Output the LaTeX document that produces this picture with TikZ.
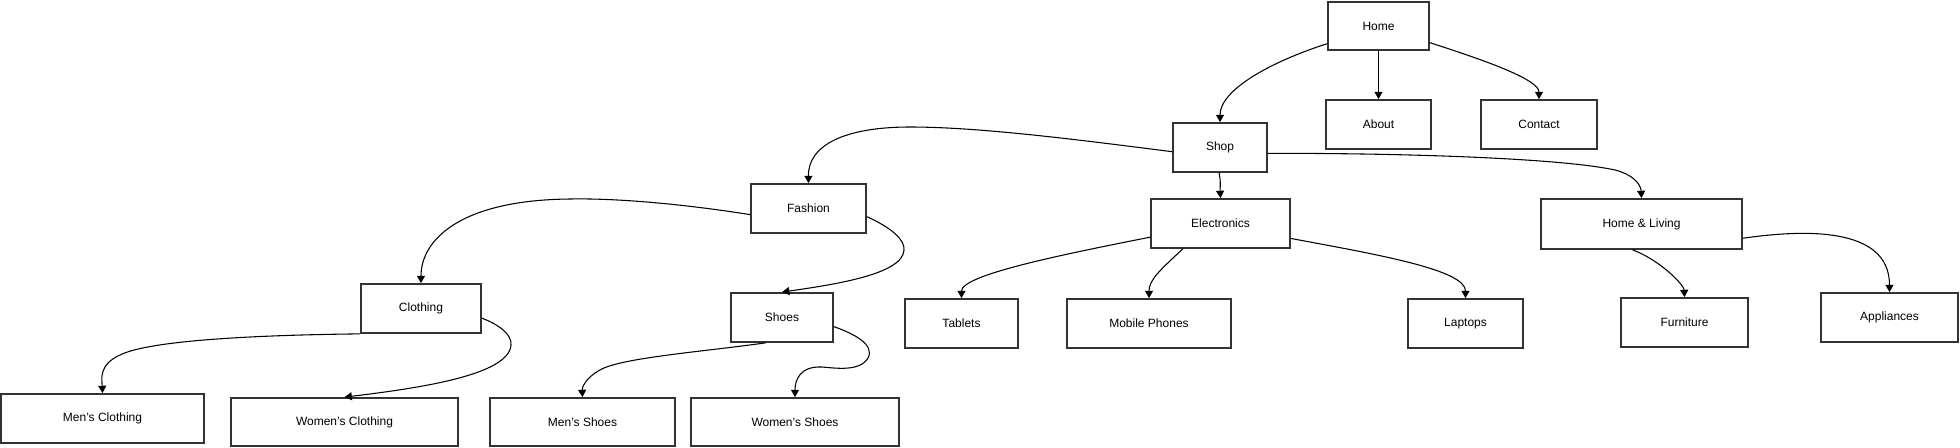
\documentclass[tikz,border=0pt]{standalone}
\usepackage{fontspec}
\setmainfont{Liberation Sans}
\usetikzlibrary{arrows.meta}
\begin{document}
\begin{tikzpicture}[x=0.75pt,y=-0.75pt,
  box/.style={draw=black!80,line width=1.3pt,fill=white,inner sep=0pt,font=\fontsize{9pt}{11pt}\selectfont},
  link/.style={draw=black,line width=0.8pt,-{Triangle[length=5.5pt,width=6pt]}}]
\useasboundingbox (0,0) rectangle (1960,447);
\newcommand\bx[6]{\node[box,minimum width=#4*0.75pt,minimum height=#5*0.75pt] (#1) at (#2,#3) {#6};}
\bx{home}{1378.5}{26}{101}{48}{Home}
\bx{about}{1378.5}{124.5}{105}{49}{About}
\bx{contact}{1539}{124.5}{116}{49}{Contact}
\bx{shop}{1220}{147.5}{94}{49}{Shop}
\bx{fashion}{808.5}{208.5}{115}{49}{Fashion}
\bx{elec}{1220.5}{223.5}{139}{49}{Electronics}
\bx{hl}{1641.5}{224}{201}{50}{Home \& Living}
\bx{clothing}{421}{308.5}{120}{49}{Clothing}
\bx{shoes}{782}{317.5}{102}{49}{Shoes}
\bx{tablets}{961.5}{323.5}{113}{49}{Tablets}
\bx{mobile}{1149}{323.5}{164}{49}{Mobile Phones}
\bx{laptops}{1465.5}{323.5}{115}{49}{Laptops}
\bx{furn}{1684.5}{322.5}{127}{49}{Furniture}
\bx{appl}{1889.5}{317.5}{137}{49}{Appliances}
\bx{mc}{102.5}{418.5}{203}{49}{Men's Clothing}
\bx{wc}{344.5}{422}{227}{48}{Women's Clothing}
\bx{ms}{582.5}{422}{185}{48}{Men's Shoes}
\bx{ws}{795}{422}{208}{48}{Women's Shoes}

\draw[link] (home.199) .. controls (1270,62) and (1220,90) .. (shop.north);
\draw[link] (home.south) -- (about.north);
\draw[link] (home.342) .. controls (1490,62) and (1539,80) .. (contact.north);
\draw[link] (shop.185) .. controls (1080,140) and (980,127) .. (910,127) .. controls (845,127) and (808,145) .. (fashion.north);
\draw[link] (shop.268) .. controls (1221,182) and (1220,190) .. (elec.north);
\draw[link] (shop.353) .. controls (1400,153) and (1560,158) .. (1615,170) .. controls (1638,176) and (1641,188) .. (hl.north);
\draw[link] (fashion.186) .. controls (690,205) and (620,198) .. (570,199) .. controls (460,200) and (421,240) .. (clothing.north);
\draw[link] (fashion.352) .. controls (892,228) and (905,240) .. (904,250) .. controls (903,275) and (830,285) .. (shoes.north);
\draw[link] (clothing.south west) .. controls (260,335) and (150,340) .. (120,355) .. controls (98,365) and (102,380) .. (mc.north);
\draw[link] (clothing.351) .. controls (500,325) and (512,335) .. (511,345) .. controls (509,375) and (420,388) .. (wc.north);
\draw[link] (shoes.237) .. controls (700,352) and (620,358) .. (600,370) .. controls (585,378) and (582,388) .. (ms.north);
\draw[link] (shoes.350) .. controls (855,334) and (875,345) .. (868,358) .. controls (860,372) and (835,368) .. (822,367) .. controls (800,366) and (795,380) .. (ws.north);
\draw[link] (elec.191) .. controls (1060,255) and (961.5,275) .. (tablets.north);
\draw[link] (elec.214) .. controls (1160,270) and (1149,280) .. (mobile.north);
\draw[link] (elec.348) .. controls (1380,255) and (1465.5,270) .. (laptops.north);
\draw[link] (hl.251) .. controls (1660,260) and (1684,285) .. (furn.north);
\draw[link] (hl.352) .. controls (1800,230) and (1889.5,225) .. (appl.north);
\end{tikzpicture}
\end{document}
